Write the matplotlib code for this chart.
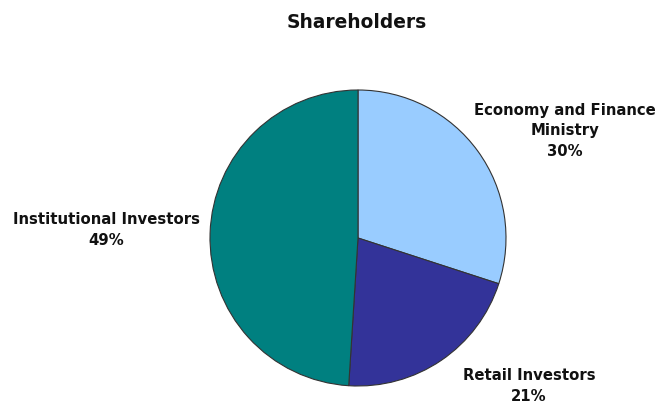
import matplotlib.pyplot as plt

# shareholder split, clockwise from 12 o'clock
labels = ["Economy and Finance\nMinistry", "Retail Investors", "Institutional Investors"]
shares = [30, 21, 49]
colors = ["#99ccff", "#333399", "#008080"]

W, H = 663, 406

plt.rcParams["font.family"] = ["DejaVu Sans"]

fig = plt.figure(figsize=(W / 100, H / 100), dpi=100)
ax = fig.add_axes([0, 0, 1, 1])

ax.pie(shares, colors=colors, startangle=90, counterclock=False,
       center=(358, H - 239), radius=148, frame=True,
       wedgeprops=dict(edgecolor="#333333", linewidth=0.8))
ax.set_xlim(0, W)
ax.set_ylim(0, H)
ax.set_aspect("equal")
ax.axis("off")

# label anchors (pixel coords from top-left)
label_pos = [(565, 131), (529, 386), (106, 230)]
for lab, val, (x, y) in zip(labels, shares, label_pos):
    ax.text(x, H - y, f"{lab}\n{val}%", ha="center", va="center",
            fontsize=10.7, fontweight="bold", linespacing=1.45, color="#111111")

ax.text(357, H - 23, "Shareholders", ha="center", va="center",
        fontsize=13.4, fontweight="bold", color="#111111")

fig.savefig("out.png", dpi=100)
